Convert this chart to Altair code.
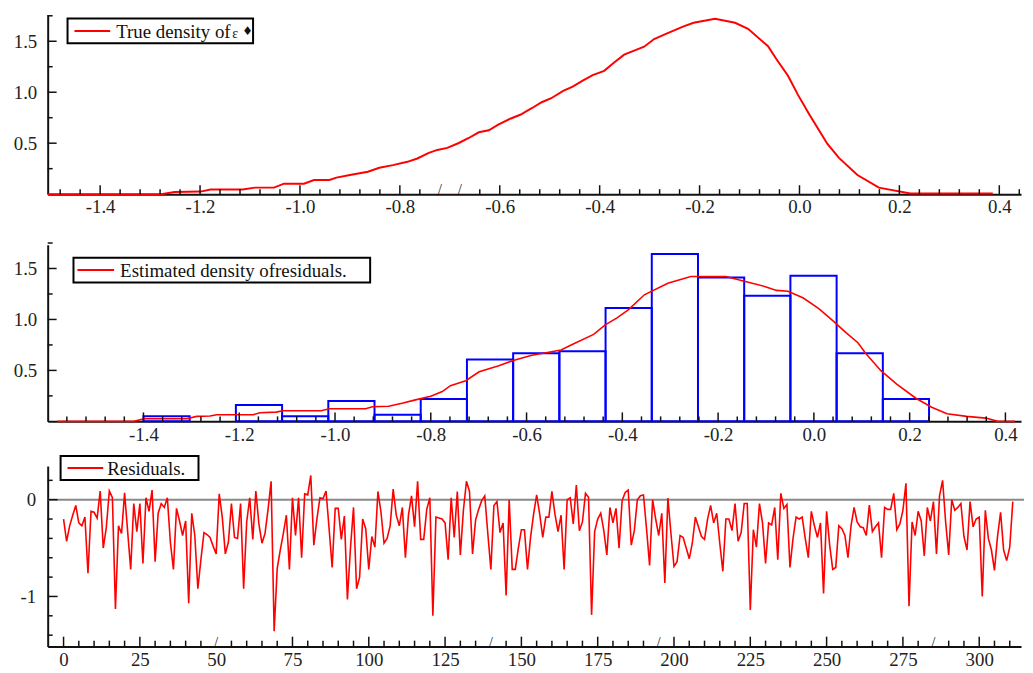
import altair as alt
import pandas as pd

FONT = "Liberation Serif"

# ---------------- data ----------------
true_x = [-1.505, -1.278, -1.251, -1.199, -1.179, -1.115, -1.090, -1.052, -1.032, -0.992,
          -0.972, -0.941, -0.927, -0.900, -0.864, -0.841, -0.814, -0.785, -0.765, -0.742,
          -0.725, -0.705, -0.682, -0.662, -0.642, -0.622, -0.603, -0.579, -0.559, -0.536,
          -0.516, -0.497, -0.473, -0.454, -0.434, -0.414, -0.391, -0.371, -0.351, -0.331,
          -0.311, -0.291, -0.265, -0.232, -0.212, -0.169, -0.129, -0.103, -0.063, -0.046,
          -0.023, -0.003, 0.020, 0.056, 0.079, 0.116, 0.159, 0.222, 0.387]
true_y = [0.0, 0.0, 0.022, 0.025, 0.045, 0.045, 0.064, 0.064, 0.103, 0.103,
          0.139, 0.139, 0.162, 0.188, 0.220, 0.259, 0.285, 0.317, 0.350, 0.405,
          0.434, 0.454, 0.502, 0.551, 0.607, 0.626, 0.682, 0.740, 0.779, 0.843,
          0.902, 0.941, 1.013, 1.055, 1.113, 1.168, 1.210, 1.291, 1.369, 1.408,
          1.447, 1.522, 1.577, 1.646, 1.681, 1.720, 1.681, 1.622, 1.451, 1.324,
          1.162, 0.974, 0.779, 0.493, 0.356, 0.188, 0.064, 0.006, 0.006]

bin_left = [-1.400, -1.3035, -1.207, -1.1105, -1.014, -0.9175, -0.821, -0.7245, -0.628,
            -0.5315, -0.435, -0.3385, -0.242, -0.1455, -0.049, 0.0475, 0.144]
bin_right = [-1.3035, -1.207, -1.1105, -1.014, -0.9175, -0.821, -0.7245, -0.628, -0.5315,
             -0.435, -0.3385, -0.242, -0.1455, -0.049, 0.0475, 0.144, 0.2405]
bin_height = [0.05, 0.0, 0.16, 0.05, 0.20, 0.065, 0.22, 0.607, 0.668,
              0.688, 1.113, 1.642, 1.411, 1.233, 1.428, 0.668, 0.22]

est_x = [-1.580, -1.420, -1.399, -1.309, -1.289, -1.261, -1.247, -1.171, -1.157, -1.123,
         -1.109, -1.029, -1.012, -0.936, -0.922, -0.888, -0.860, -0.832, -0.800, -0.776,
         -0.759, -0.727, -0.699, -0.658, -0.626, -0.589, -0.565, -0.528, -0.508, -0.460,
         -0.435, -0.411, -0.387, -0.354, -0.305, -0.257, -0.184, -0.143, -0.103, -0.078,
         -0.054, -0.022, 0.011, 0.043, 0.067, 0.092, 0.108, 0.140, 0.173, 0.213,
         0.246, 0.278, 0.319, 0.359, 0.384, 0.420]
est_y = [0.0, 0.0, 0.026, 0.026, 0.049, 0.052, 0.065, 0.065, 0.084, 0.091,
         0.104, 0.104, 0.123, 0.123, 0.143, 0.149, 0.178, 0.211, 0.246, 0.292,
         0.350, 0.399, 0.487, 0.545, 0.600, 0.649, 0.668, 0.701, 0.746, 0.853,
         0.950, 1.016, 1.096, 1.242, 1.356, 1.422, 1.422, 1.373, 1.324, 1.285,
         1.276, 1.210, 1.103, 0.974, 0.870, 0.772, 0.668, 0.497, 0.366, 0.227,
         0.139, 0.074, 0.049, 0.032, 0.0, 0.0]

resid = [
    -0.20, -0.43, -0.27, -0.16, -0.06, -0.24, -0.27, -0.18, -0.76, -0.12,
    -0.13, -0.19, 0.09, -0.50, -0.29, 0.09, 0.02, -1.13, -0.27, -0.35,
    0.07, -0.33, -0.72, -0.04, -0.33, -0.04, -0.66, 0.02, -0.12, 0.10,
    -0.64, -0.14, -0.04, -0.08, 0.02, -0.44, -0.72, -0.09, -0.22, -0.37,
    -0.22, -1.07, -0.14, -0.37, -0.92, -0.62, -0.34, -0.36, -0.39, -0.48,
    -0.56, 0.06, -0.18, -0.56, -0.44, -0.04, -0.39, -0.40, -0.04, -0.92,
    -0.23, 0.02, -0.41, 0.09, -0.25, -0.45, -0.35, -0.10, 0.19, -1.36,
    -0.71, -0.52, -0.35, -0.16, -0.72, 0.02, -0.37, 0.02, -0.60, 0.06,
    0.05, 0.25, -0.47, -0.20, 0.02, 0.01, 0.09, -0.30, -0.70, -0.09,
    -0.09, -0.41, -0.17, -1.03, -0.50, -0.08, -0.92, -0.80, -0.20, -0.30,
    -0.72, -0.38, -0.49, 0.085, -0.13, -0.45, -0.40, -0.27, 0.11, -0.16,
    -0.27, -0.08, -0.60, -0.16, 0.04, -0.28, 0.19, -0.41, -0.41, -0.10,
    0.02, -1.20, -0.18, -0.19, -0.20, -0.24, -0.62, 0.02, -0.39, 0.085,
    -0.57, -0.11, 0.19, 0.085, -0.56, -0.21, -0.10, -0.01, 0.04, -0.35,
    -0.72, -0.06, -0.02, -0.34, -0.24, -0.99, 0.0, -0.72, -0.72, -0.50,
    -0.31, -0.31, -0.72, -0.39, -0.15, 0.05, -0.15, -0.39, -0.18, -0.18,
    0.085, -0.15, -0.33, -0.16, -0.72, 0.0, 0.02, -0.25, 0.15, -0.32,
    -0.23, 0.065, 0.024, -1.19, -0.33, -0.20, -0.14, -0.32, -0.57, -0.08,
    -0.24, -0.09, -0.50, -0.01, 0.075, 0.10, -0.47, -0.32, 0.0, 0.04,
    0.048, -0.30, -0.68, 0.0, -0.20, -0.37, -0.14, -0.86, 0.017, -0.35,
    -0.69, -0.64, -0.37, -0.39, -0.50, -0.61, -0.45, -0.18, -0.28, -0.38,
    -0.41, -0.20, -0.06, -0.24, -0.14, -0.45, -0.74, -0.20, -0.20, -0.32,
    -0.04, -0.43, -0.34, -0.04, -0.04, -1.14, -0.31, -0.49, -0.04, -0.24,
    -0.66, -0.24, -0.26, -0.08, -0.62, 0.065, -0.09, -0.05, -0.70, -0.40,
    -0.18, -0.20, -0.18, -0.40, -0.60, -0.12, -0.27, -0.39, -0.24, -0.97,
    -0.12, -0.47, -0.72, -0.70, -0.27, -0.30, -0.37, -0.60, -0.27, -0.08,
    -0.23, -0.28, -0.29, -0.37, -0.055, -0.33, -0.28, -0.24, -0.60, -0.08,
    -0.10, -0.10, 0.065, -0.31, -0.25, -0.11, 0.17, -1.10, -0.23, -0.37,
    -0.12, -0.22, -0.58, -0.08, -0.22, -0.02, -0.56, 0.04, 0.20, -0.23,
    -0.57, 0.0, -0.11, -0.08, -0.04, -0.38, -0.52, -0.02, -0.28, -0.20,
    -0.18, -1.0, -0.11, -0.40, -0.52, -0.73, -0.38, -0.13, -0.52, -0.63,
    -0.49, -0.02,
]

# axis label values
dens_x_labels = [-1.4, -1.2, -1.0, -0.8, -0.6, -0.4, -0.2, 0.0, 0.2, 0.4]
dens_y_labels = [0.5, 1.0, 1.5]
res_x_labels = [0, 25, 50, 75, 100, 125, 150, 175, 200, 225, 250, 275, 300]
res_y_labels = [-1, 0]

# tick positions
top_major_x = dens_x_labels
top_slash_x = [-0.72, -0.68]
top_minor_x = [round(-1.48 + 0.04 * k, 2) for k in range(49)]
top_minor_x = [v for v in top_minor_x
               if abs(v / 0.2 - round(v / 0.2)) > 1e-6 and v not in top_slash_x]
mid_major_x = dens_x_labels
mid_minor_x = [round(-1.56 + 0.04 * k, 2) for k in range(50)]
mid_minor_x = [v for v in mid_minor_x if abs(v / 0.2 - round(v / 0.2)) > 1e-6 and v <= 0.43]
dens_major_y = [0.5, 1.0, 1.5]
dens_minor_y = [0.25, 0.75, 1.25, 1.75]
res_slash_x = [50, 140, 195, 285]
res_major_x = [v for v in res_x_labels if v not in res_slash_x]
res_minor_x = [v for v in range(5, 311, 5) if v % 25 != 0 and v not in res_slash_x]
res_major_y = [-1, 0]
res_minor_y = [-1.4, -1.2, -0.8, -0.6, -0.4, -0.2, 0.2]

W = 981
H1, H2, H3 = 181, 178, 182
INK = "#111111"


def make_axis(values, fmt, pad):
    return alt.Axis(values=values, title=None, ticks=False, grid=False,
                    labelExpr=f"replace(format(datum.value, '{fmt}'), '\u2212', '-')",
                    domainColor=INK, domainWidth=2, labelPadding=pad,
                    labelFont=FONT, labelFontSize=19, labelColor="#222222",
                    labelFlush=False, labelOverlap=False)


def xticks(vals, scale, ax, H, length):
    return alt.Chart(pd.DataFrame({"v": vals})).mark_rule(color=INK, strokeWidth=1.5).encode(
        x=alt.X("v:Q", scale=scale, axis=ax), y=alt.value(H), y2=alt.value(H - length))


def yticks(vals, scale, ax, length):
    return alt.Chart(pd.DataFrame({"v": vals})).mark_rule(color=INK, strokeWidth=1.5).encode(
        y=alt.Y("v:Q", scale=scale, axis=ax), x=alt.value(0), x2=alt.value(length))


def slashes(vals, scale, ax, H):
    return alt.Chart(pd.DataFrame({"v": vals})).mark_text(
        text="/", font=FONT, fontSize=14, color=INK, baseline="bottom").encode(
        x=alt.X("v:Q", scale=scale, axis=ax), y=alt.value(H + 3))


def legend(label, x0, x1, y0, y1, lx0, lx1, tx):
    d = pd.DataFrame({"t": [label]})
    base = alt.Chart(d)
    ym = (y0 + y1) / 2
    box = base.mark_rect(fill="white", stroke="black", strokeWidth=2).encode(
        x=alt.value(x0), x2=alt.value(x1), y=alt.value(y0), y2=alt.value(y1))
    line = base.mark_rule(color="#FF0000", strokeWidth=2).encode(
        x=alt.value(lx0), x2=alt.value(lx1), y=alt.value(ym))
    txt = base.mark_text(align="left", baseline="middle", font=FONT, fontSize=19,
                         color=INK).encode(x=alt.value(tx), y=alt.value(ym + 1), text="t:N")
    return [box, line, txt]


# ---------------- top panel ----------------
top_xs = alt.Scale(domain=[-1.505, 0.4435], nice=False, zero=False)
top_ys = alt.Scale(domain=[0, 1.762], nice=False, zero=False)
top_xa = make_axis(dens_x_labels, ".1f", 4)
top_ya = make_axis(dens_y_labels, ".1f", 11)

top_line = alt.Chart(pd.DataFrame({"x": true_x, "y": true_y})).mark_line(
    color="#FF0000", strokeWidth=2).encode(
    x=alt.X("x:Q", scale=top_xs, axis=top_xa),
    y=alt.Y("y:Q", scale=top_ys, axis=top_ya))

eps = alt.Chart(pd.DataFrame({"t": ["\u03b5"]})).mark_text(
    align="left", baseline="middle", font=FONT, fontSize=14, color=INK).encode(
    x=alt.value(186), y=alt.value(20), text="t:N")
diamond = alt.Chart(pd.DataFrame({"t": ["\u2666"]})).mark_text(
    align="left", baseline="middle", font="DejaVu Sans", fontSize=12, color=INK).encode(
    x=alt.value(196), y=alt.value(17), text="t:N")
spacer = alt.Chart(pd.DataFrame({"t": ["s"]})).mark_rule(opacity=0).encode(
    x=alt.value(0), y=alt.value(H1), y2=alt.value(H1 + 37))

top = alt.layer(
    top_line,
    xticks(top_major_x, top_xs, top_xa, H1, 9), xticks(top_minor_x, top_xs, top_xa, H1, 5),
    slashes(top_slash_x, top_xs, top_xa, H1),
    yticks(dens_major_y, top_ys, top_ya, 9), yticks(dens_minor_y, top_ys, top_ya, 5),
    *legend("True density of", 20, 207, 4, 29, 27, 63, 69),
    eps, diamond, spacer,
).properties(width=W, height=H1)

# ---------------- middle panel ----------------
mid_xs = alt.Scale(domain=[-1.600, 0.4326], nice=False, zero=False)
mid_ys = alt.Scale(domain=[0, 1.733], nice=False, zero=False)
mid_xa = make_axis(dens_x_labels, ".1f", 4)
mid_ya = make_axis(dens_y_labels, ".1f", 11)

hist_df = pd.DataFrame({"l": bin_left, "r": bin_right, "h": bin_height})
hist_df = hist_df[hist_df["h"] > 0].copy()
hist_df["b"] = 0.0
hist = alt.Chart(hist_df).mark_rect(fillOpacity=0, stroke="#0000FF", strokeWidth=2).encode(
    x=alt.X("l:Q", scale=mid_xs, axis=mid_xa), x2="r:Q",
    y=alt.Y("h:Q", scale=mid_ys, axis=mid_ya), y2="b:Q")

mid_line = alt.Chart(pd.DataFrame({"x": est_x, "y": est_y})).mark_line(
    color="#FF0000", strokeWidth=1.6).encode(
    x=alt.X("x:Q", scale=mid_xs, axis=mid_xa),
    y=alt.Y("y:Q", scale=mid_ys, axis=mid_ya))

mid = alt.layer(
    hist, mid_line,
    xticks(mid_major_x, mid_xs, mid_xa, H2, 9), xticks(mid_minor_x, mid_xs, mid_xa, H2, 5),
    yticks(dens_major_y, mid_ys, mid_ya, 9), yticks(dens_minor_y, mid_ys, mid_ya, 5),
    *legend("Estimated density ofresiduals.", 26, 325, 13, 38, 30, 67, 73),
).properties(width=W, height=H2)

# ---------------- bottom panel ----------------
bot_xs = alt.Scale(domain=[-5.2, 313.7], nice=False, zero=False)
bot_ys = alt.Scale(domain=[-1.518, 0.348], nice=False, zero=False)
bot_xa = make_axis(res_x_labels, "d", 4)
bot_ya = make_axis(res_y_labels, "d", 12)

zero_line = alt.Chart(pd.DataFrame({"z": [0.0]})).mark_rule(color="#888888", strokeWidth=2).encode(
    y=alt.Y("z:Q", scale=bot_ys, axis=bot_ya), x=alt.value(0), x2=alt.value(W + 3))

res_line = alt.Chart(pd.DataFrame({"i": list(range(len(resid))), "r": resid})).mark_line(
    color="#FF0000", strokeWidth=1.6).encode(
    x=alt.X("i:Q", scale=bot_xs, axis=bot_xa),
    y=alt.Y("r:Q", scale=bot_ys, axis=bot_ya))

bot = alt.layer(
    zero_line, res_line,
    xticks(res_major_x, bot_xs, bot_xa, H3, 10), xticks(res_minor_x, bot_xs, bot_xa, H3, 6),
    slashes(res_slash_x, bot_xs, bot_xa, H3),
    yticks(res_major_y, bot_ys, bot_ya, 10), yticks(res_minor_y, bot_ys, bot_ya, 5),
    *legend("Residuals.", 13, 152, -10, 14, 20, 56, 60),
).properties(width=W, height=H3)

chart = alt.vconcat(top, mid, bot, spacing=11).properties(
    padding={"left": 5, "top": 4, "right": 0, "bottom": 0},
    background="white",
).configure_view(stroke=None)

chart.save("out.html", embed_options={"renderer": "svg", "actions": False})
